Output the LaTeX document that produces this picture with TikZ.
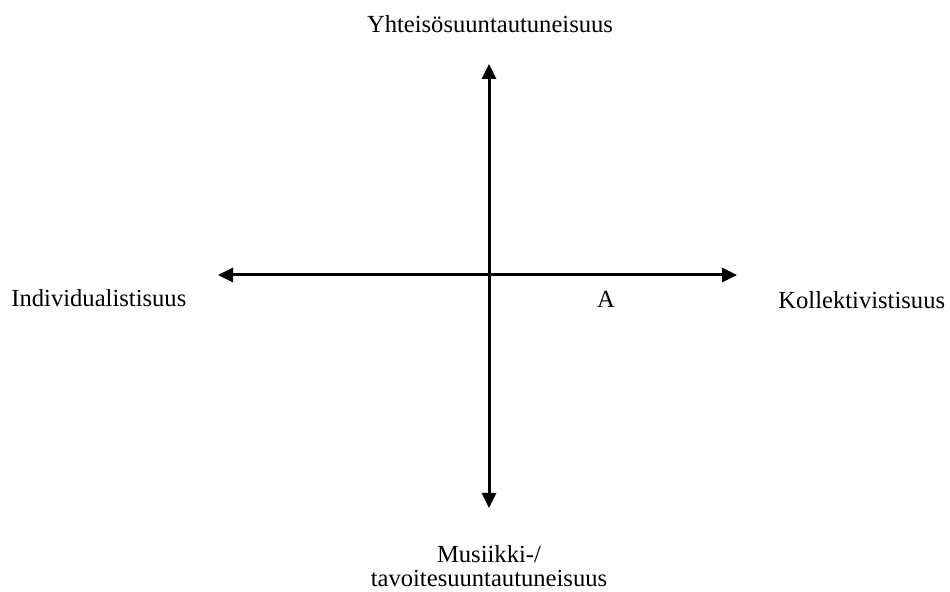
\documentclass[tikz,border=0pt]{standalone}
\usepackage{fontspec}
\setmainfont{Liberation Serif}
\usetikzlibrary{arrows.meta}
\begin{document}
\begin{tikzpicture}[x=0.5pt,y=-0.5pt,
  axis/.style={line width=1.5pt,{Triangle[length=7.5pt,width=7pt]}-{Triangle[length=7.5pt,width=7pt]}},
  lbl/.style={font=\fontsize{12.3pt}{12.6pt}\selectfont,inner sep=0pt,anchor=base}]
\useasboundingbox (0,0) rectangle (950,592);
\coordinate (top) at (489,64);
\coordinate (bot) at (489,508);
\coordinate (left) at (218,275);
\coordinate (right) at (737,275);
\draw[axis] (bot) -- (top);
\draw[axis] (left) -- (right);
\node[lbl] (ny) at (490,33) {Yhteisösuuntautuneisuus};
\node[lbl,anchor=base west] (ni) at (11,307) {Individualistisuus};
\node[lbl,anchor=base west] (nk) at (778,309) {Kollektivistisuus};
\node[lbl] (na) at (606,308) {A};
\node[lbl] (nm1) at (489,563) {Musiikki-/};
\node[lbl] (nm2) at (489,587) {tavoitesuuntautuneisuus};
\end{tikzpicture}
\end{document}
